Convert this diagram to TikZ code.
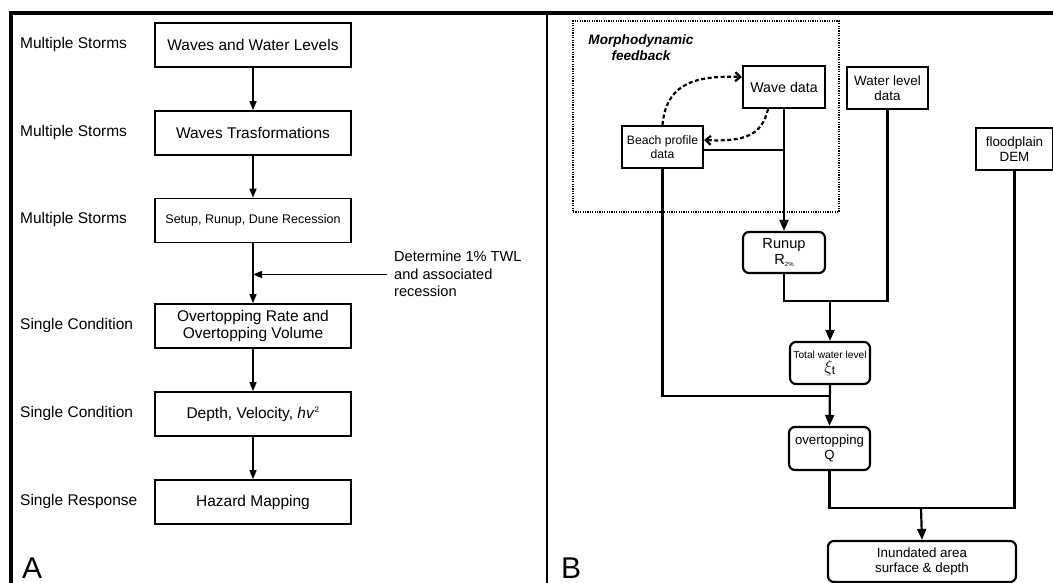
\documentclass[tikz,border=0pt]{standalone}
\usepackage{fontspec}
\setmainfont{Liberation Sans}
\usetikzlibrary{arrows.meta}
\begin{document}
\begin{tikzpicture}[x=1pt,y=-1pt,
 lbox/.style={draw,line width=1.7pt,minimum width=196pt,minimum height=44pt,inner sep=0pt,font=\fontsize{15.5}{17}\selectfont,align=center},
 rbox/.style={draw,line width=2.2pt,inner sep=0pt,align=center,font=\fontsize{13.4}{15}\selectfont},
 rrbox/.style={rbox,rounded corners=6pt},
 lab/.style={anchor=west,font=\fontsize{15.5}{17}\selectfont,inner sep=0pt},
 larr/.style={-{Triangle[length=9pt,width=7pt]},line width=1.5pt},
 rarr/.style={-{Triangle[length=11pt,width=9pt]},line width=2.2pt},
 rline/.style={line width=2.2pt},
 dsh/.style={line width=2.2pt,dash pattern=on 4pt off 2.5pt,-{Straight Barb[length=5pt,width=9pt]}}
]
\useasboundingbox (0,0) rectangle (1053,583);
% frame
\draw[line width=4pt] (11,583) -- (11,13) -- (1053,13);
\draw[line width=2.2pt] (547,13) -- (547,583);

% ---- panel A ----
\node[lbox] (b1) at (253,45) {Waves and Water Levels};
\node[lbox] (b2) at (253,133) {Waves Trasformations};
\node[lbox,font=\fontsize{12.5}{14}\selectfont] (b3) at (253,220.5) {Setup, Runup, Dune Recession};
\node[lbox] (b4) at (253,326) {Overtopping Rate and\\Overtopping Volume};
\node[lbox] (b5) at (253,414) {Depth, Velocity, \textit{hv}\textsuperscript{\fontsize{8}{8}\selectfont 2}};
\node[lbox] (b6) at (253,502) {Hazard Mapping};

\node[lab] (l1) at (20,44) {Multiple Storms};
\node[lab] (l2) at (20,132) {Multiple Storms};
\node[lab] (l3) at (20,219) {Multiple Storms};
\node[lab] (l4) at (20,325) {Single Condition};
\node[lab] (l5) at (20,413) {Single Condition};
\node[lab] (l6) at (20,501) {Single Response};

\draw[larr] (b1) -- (b2);
\draw[larr] (b2) -- (b3);
\draw[larr] (b3) -- (b4);
\draw[larr] (b4) -- (b5);
\draw[larr] (b5) -- (b6);

\node[anchor=west,align=left,inner sep=0pt,font=\fontsize{14.6}{17.5}\selectfont] (tx) at (394,274) {Determine 1\% TWL\\and associated\\recession};
\draw[larr] ([xshift=-7pt,yshift=-0.5pt]tx.west) -- ([yshift=-0.5pt]tx.west -| b3.south);

\node[anchor=base west,inner sep=0pt,font=\fontsize{30}{30}\selectfont] (A) at (22,578) {A};

% ---- panel B ----
\node[draw,line width=2pt,dash pattern=on 1.2pt off 1.2pt,minimum width=266pt,minimum height=191pt,inner sep=0pt] (fb) at (706,116.5) {};
\node[font=\bfseries\itshape\fontsize{13.6}{16}\selectfont,align=center,inner sep=0pt] (mf) at (641,48) {Morphodynamic\\feedback};

\node[rbox,minimum width=82pt,minimum height=42pt,font=\fontsize{14.2}{16}\selectfont] (wave) at (784,87) {Wave data};
\node[rbox,minimum width=81pt,minimum height=42pt,font=\fontsize{12.2}{14}\selectfont] (beach) at (662.5,147) {Beach profile\\data};
\node[rbox,minimum width=81pt,minimum height=42pt] (water) at (887.5,88) {Water level\\data};
\node[rbox,minimum width=77pt,minimum height=42pt] (flood) at (1014.5,149) {floodplain\\DEM};
\node[rrbox,minimum width=82pt,minimum height=41pt,font=\fontsize{14.6}{16}\selectfont] (runup) at (784,252.5) {Runup\\R\raisebox{-2pt}{\fontsize{6}{6}\selectfont 2\%}};
\node[rrbox,minimum width=80pt,minimum height=42pt,font=\fontsize{10.2}{14}\selectfont] (twl) at (830,363) {Total water level\\{\fontsize{17}{16}\selectfont$\xi_{\mathrm{t}}$}};
\node[rrbox,minimum width=81pt,minimum height=43pt,font=\fontsize{13.2}{15}\selectfont] (over) at (829.5,448.5) {overtopping\\Q};
\node[rrbox,minimum width=188pt,minimum height=41pt] (inund) at (922,561.5) {Inundated area\\surface \& depth};

\draw[rarr] (wave.south) -- (wave.south |- runup.north);
\draw[rline] ([yshift=-3pt]beach.east) -- ([yshift=-3pt]beach.east -| wave.south);
\coordinate (j1) at (830,301);
\draw[rline] (runup.south) |- (j1) -| (water.south);
\draw[rarr] (j1) -- (twl.north);
\draw[rarr] (twl.south) -- (over.north);
\coordinate (j2) at (830,396);
\draw[rline] (beach.south) |- (j2);
\coordinate (j3) at (921,508);
\draw[rline] (over.south) |- (j3) -| (flood.south);
\draw[rarr] (j3) -- (inund.north);

\draw[dsh] (beach.north) .. controls (666,88) and (688,75) .. ([yshift=10pt]wave.west);
\draw[dsh] ([xshift=-16pt]wave.south) .. controls (762,135) and (745,142) .. ([yshift=7pt]beach.east);

\node[anchor=base west,inner sep=0pt,font=\fontsize{30}{30}\selectfont] (B) at (561,578) {B};
\end{tikzpicture}
\end{document}
